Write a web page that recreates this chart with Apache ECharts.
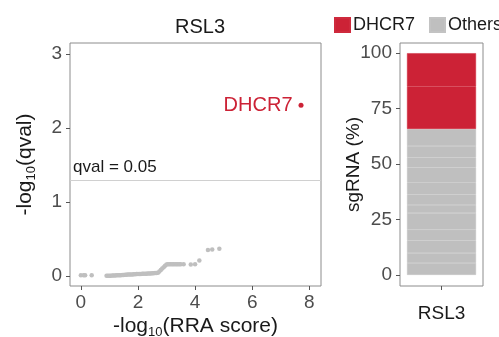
<!DOCTYPE html>
<html>
<head>
<meta charset="utf-8">
<script src="https://cdn.jsdelivr.net/npm/echarts@6/dist/echarts.min.js"></script>
<style>html,body{margin:0;padding:0;background:#fff}#c{width:499px;height:337px}</style>
</head>
<body>
<div id="c"></div>
<script>
// ---- data ----
const titleText = 'RSL3';
const hitName = 'DHCR7';
const hitX = 7.71;
const hitY = 2.31;
const otherX = [0.0, 0.1, 0.15, 0.38,
  0.9, 0.95, 1.0, 1.05, 1.1, 1.15, 1.2, 1.25, 1.3, 1.35, 1.4, 1.45, 1.5, 1.55, 1.6, 1.65, 1.7, 1.75, 1.8, 1.85, 1.9, 1.95,
  2.0, 2.05, 2.1, 2.15, 2.2, 2.25, 2.3, 2.35, 2.4, 2.45, 2.5, 2.55, 2.6, 2.65, 2.7,
  2.75, 2.8, 2.85, 2.9, 2.95, 3.0, 3.05, 3.1, 3.15, 3.2, 3.25, 3.3, 3.35, 3.4, 3.45, 3.5, 3.6, 3.85, 4.0, 4.15, 4.45, 4.6, 4.85];
const otherY = [0.01, 0.01, 0.01, 0.01,
  0.005, 0.005, 0.005, 0.005, 0.006, 0.007, 0.008, 0.009, 0.01, 0.011, 0.012, 0.013, 0.015, 0.016, 0.018, 0.019, 0.02, 0.021, 0.022, 0.023, 0.025, 0.026,
  0.027, 0.027, 0.028, 0.029, 0.03, 0.031, 0.032, 0.033, 0.034, 0.035, 0.036, 0.038, 0.04, 0.042, 0.045,
  0.06, 0.08, 0.1, 0.12, 0.14, 0.155, 0.16, 0.16, 0.16, 0.16, 0.16, 0.16, 0.16, 0.16, 0.16, 0.16, 0.16, 0.155, 0.16, 0.21, 0.35, 0.36, 0.37];
const qThreshold = 1.301;
const qLabel = 'qval = 0.05';
const xTicks = [0, 2, 4, 6, 8];
const yTicks = [0, 1, 2, 3];
const barCategory = ['RSL3'];
const othersSegments = [5.4, 4.5, 5.6, 4.8, 7.6, 3.6, 4.7, 5.3, 6.9, 4.5, 5.2, 7.7];
const hitSegments = [19.2, 14.9];
const pctTicks = [0, 25, 50, 75, 100];

// ---- styles ----
const RED = '#cc2236';
const GREY = '#bfbfbf';
const FONT = 'Liberation Sans, Arial, sans-serif';
const tickLbl = {color: '#4d4d4d', fontSize: 19, fontFamily: FONT};
const legendText = {fontSize: 18, color: '#1a1a1a', fontFamily: FONT, padding: [0, 0, 0, -2]};

const chart = echarts.init(document.getElementById('c'));

const barSeries = [];
othersSegments.forEach(v => barSeries.push({
  type: 'bar', name: 'Others', stack: 's', xAxisIndex: 1, yAxisIndex: 1,
  data: [v], barWidth: 69, itemStyle: {color: GREY, borderColor: '#c3c3c3', borderWidth: 0.5},
  emphasis: {disabled: true}
}));
hitSegments.forEach(v => barSeries.push({
  type: 'bar', name: 'DHCR7', stack: 's', xAxisIndex: 1, yAxisIndex: 1,
  data: [v], barWidth: 69, itemStyle: {color: RED, borderColor: '#ce2a3d', borderWidth: 0.5},
  emphasis: {disabled: true}
}));

chart.setOption({
  animation: false,
  textStyle: {fontFamily: FONT},
  title: {text: titleText, left: 195, top: 12, textAlign: 'center',
    textStyle: {fontSize: 20, fontWeight: 'normal', color: '#1a1a1a', fontFamily: FONT}},
  legend: [
    {data: ['DHCR7'], left: 334, top: 16, icon: 'rect', itemWidth: 15, itemHeight: 14, padding: 0,
      textStyle: legendText, selectedMode: false},
    {data: ['Others'], left: 429, top: 16, icon: 'rect', itemWidth: 15, itemHeight: 14, padding: 0,
      textStyle: legendText, selectedMode: false}
  ],
  grid: [
    {left: 70, top: 43, width: 251, height: 243, show: true, borderColor: '#8c8c8c', borderWidth: 1, backgroundColor: 'transparent', outerBoundsMode: 'none', containLabel: false},
    {left: 400, top: 43, width: 83, height: 243, show: true, borderColor: '#8c8c8c', borderWidth: 1, backgroundColor: 'transparent', outerBoundsMode: 'none', containLabel: false}
  ],
  xAxis: [
    {type: 'value', gridIndex: 0, min: -0.38, max: 8.41,
      splitLine: {show: false}, axisLine: {show: false, onZero: false},
      axisTick: {show: true, length: 4, customValues: xTicks, lineStyle: {color: '#555'}},
      axisLabel: Object.assign({customValues: xTicks, margin: 7}, tickLbl),
      name: '-log{s|10}(RRA score)', nameLocation: 'middle', nameGap: 28, nameMoveOverlap: false,
      nameTextStyle: {fontSize: 21, color: '#1a1a1a', fontFamily: FONT,
        rich: {s: {fontSize: 13, verticalAlign: 'bottom', padding: [12, 0, 0, 0], color: '#1a1a1a'}}}},
    {type: 'category', gridIndex: 1, data: barCategory,
      axisLine: {show: false, onZero: false}, axisTick: {show: true, length: 4, alignWithLabel: true, lineStyle: {color: '#555'}},
      axisLabel: {color: '#1a1a1a', fontSize: 19, fontFamily: FONT, margin: 18}}
  ],
  yAxis: [
    {type: 'value', gridIndex: 0, min: -0.135, max: 3.15,
      splitLine: {show: false}, axisLine: {show: false, onZero: false},
      axisTick: {show: true, length: 4, customValues: yTicks, lineStyle: {color: '#555'}},
      axisLabel: Object.assign({customValues: yTicks, margin: 8}, tickLbl),
      name: '-log{s|10}(qval)', nameLocation: 'middle', nameGap: 32, nameRotate: 90, nameMoveOverlap: false,
      nameTextStyle: {fontSize: 21, color: '#1a1a1a', fontFamily: FONT,
        rich: {s: {fontSize: 13, verticalAlign: 'bottom', padding: [12, 0, 0, 0], color: '#1a1a1a'}}}},
    {type: 'value', gridIndex: 1, min: -5, max: 104.5,
      splitLine: {show: false}, axisLine: {show: false, onZero: false},
      axisTick: {show: true, length: 4, customValues: pctTicks, lineStyle: {color: '#555'}},
      axisLabel: Object.assign({customValues: pctTicks, margin: 8}, tickLbl),
      name: 'sgRNA (%)', nameLocation: 'middle', nameGap: 37, nameRotate: 90, nameMoveOverlap: false,
      nameTextStyle: {fontSize: 19, color: '#1a1a1a', fontFamily: FONT}}
  ],
  series: [
    {type: 'scatter', xAxisIndex: 0, yAxisIndex: 0, symbolSize: 4.5,
      data: otherX.map((x, i) => [x, otherY[i]]),
      itemStyle: {color: GREY, opacity: 1}, emphasis: {disabled: true},
      markLine: {silent: true, symbol: 'none',
        lineStyle: {color: '#d0d0d0', width: 1, type: 'solid'},
        label: {show: true, position: 'insideStartTop', formatter: qLabel, color: '#1a1a1a', fontSize: 17, fontFamily: FONT, distance: [3, 4]},
        data: [{yAxis: qThreshold}]}},
    {type: 'scatter', xAxisIndex: 0, yAxisIndex: 0, symbolSize: 5,
      data: [[hitX, hitY]], itemStyle: {color: RED, opacity: 1}, emphasis: {disabled: true},
      label: {show: true, position: 'left', distance: 6, formatter: hitName, color: RED, fontSize: 20, fontFamily: FONT}}
  ].concat(barSeries)
});
</script>
</body>
</html>
